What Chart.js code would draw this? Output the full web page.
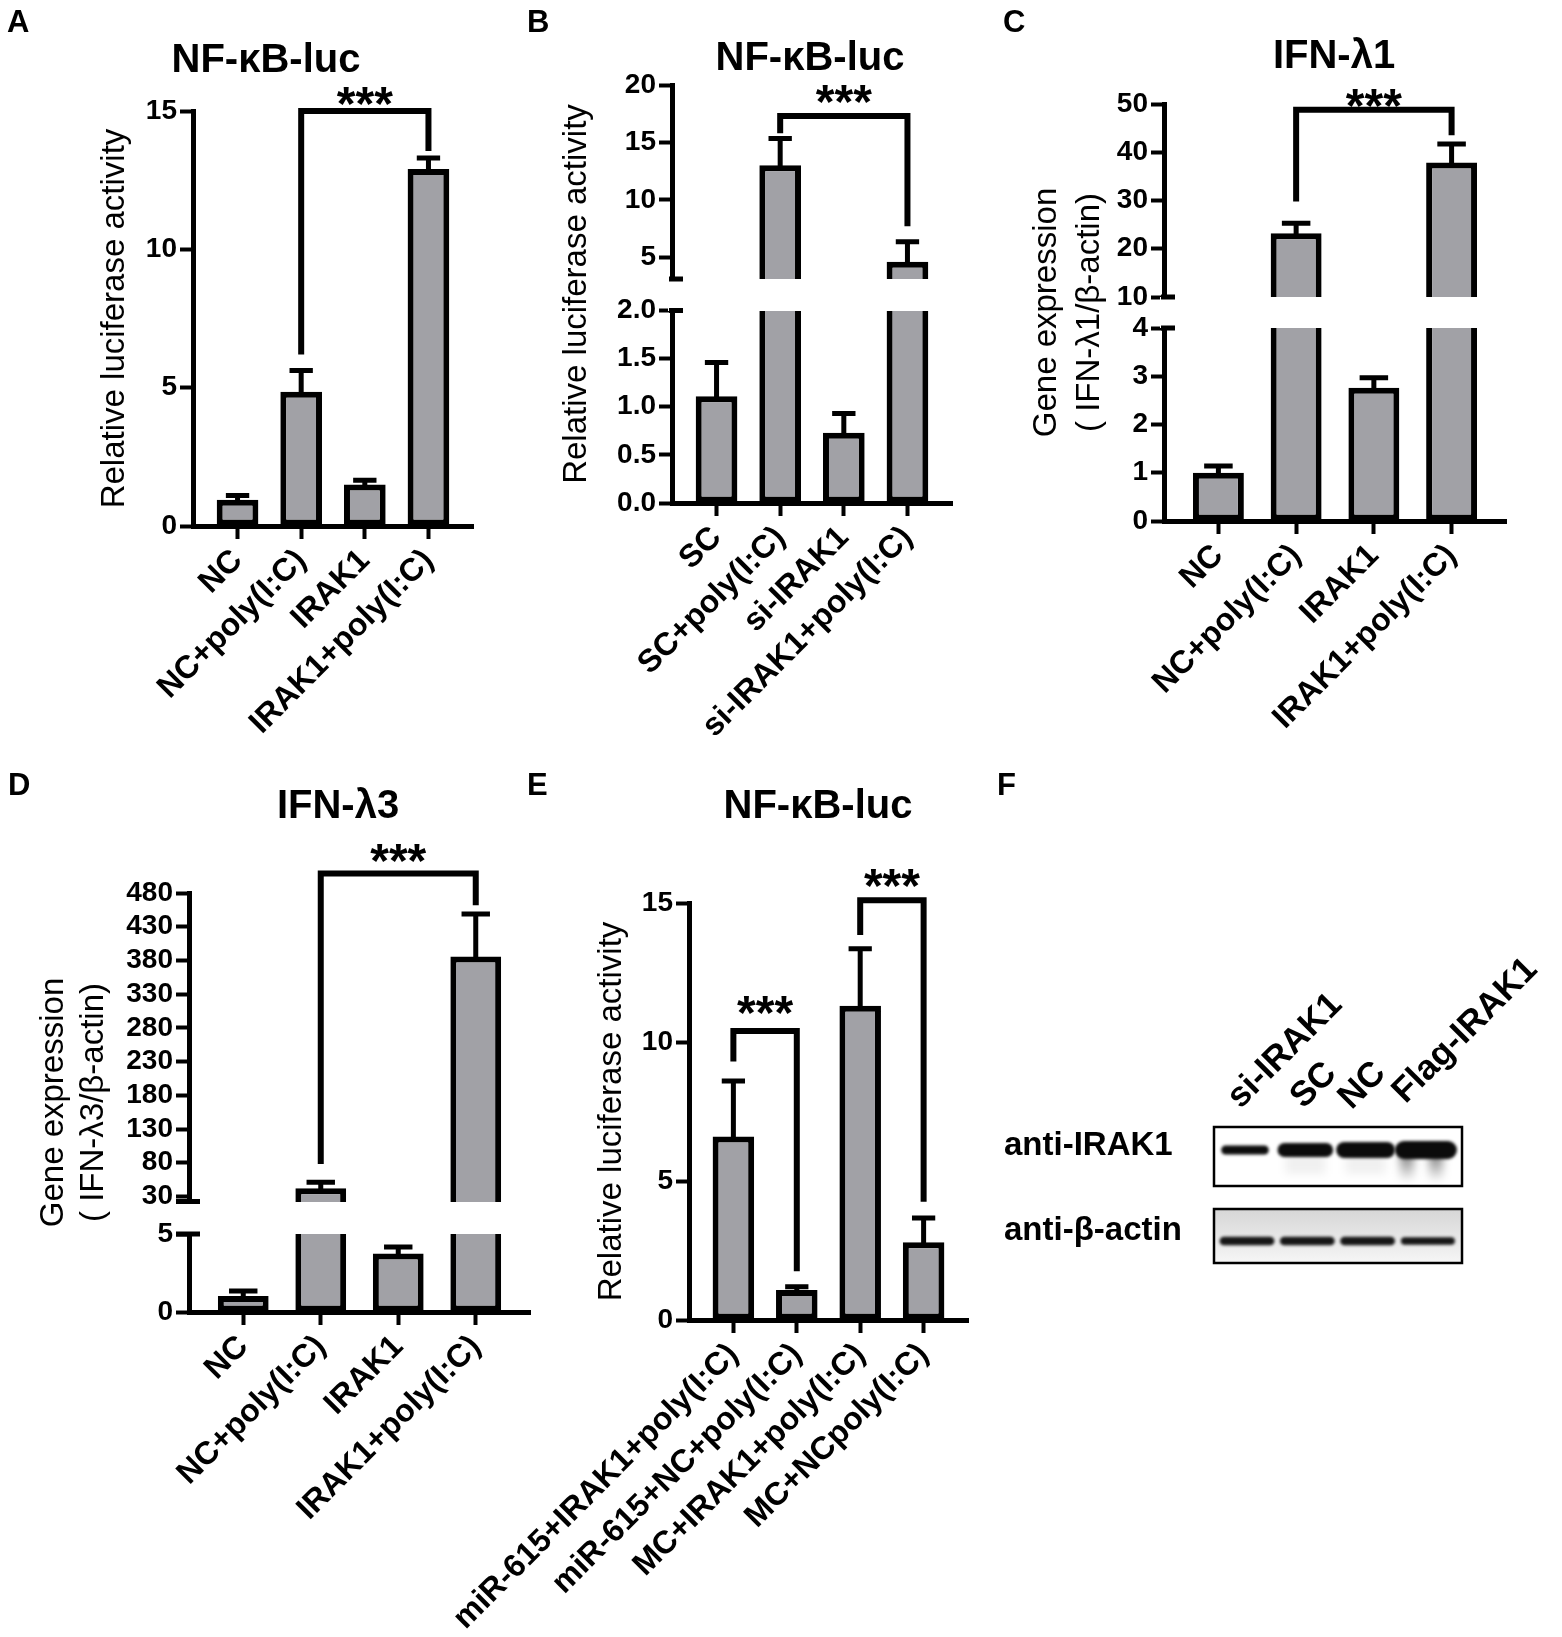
<!DOCTYPE html>
<html>
<head>
<meta charset="utf-8">
<title>IRAK1 / NF-κB figure</title>
<script src="https://cdn.jsdelivr.net/npm/chart.js@4.4.1/dist/chart.umd.min.js"></script>
<style>
  html, body { margin: 0; padding: 0; background: #fff; }
  #page { position: relative; width: 1562px; height: 1637px; overflow: hidden;
          font-family: "Liberation Sans", Arial, sans-serif; color: #000; }
  #page canvas { position: absolute; left: 0; top: 0; }
  .tag { position: absolute; font-weight: bold; font-size: 31px; line-height: 31px; }
  .blotlbl { position: absolute; font-weight: bold; font-size: 33px; line-height: 33px; white-space: nowrap; }
  .lane { position: absolute; font-weight: bold; font-size: 35px; line-height: 35px; white-space: nowrap;
          transform-origin: 0 100%; transform: rotate(-45deg); }
</style>
</head>
<body>
<div id="page">
  <canvas id="chartA" width="1562" height="1637"></canvas>
  <canvas id="chartB" width="1562" height="1637"></canvas>
  <canvas id="chartC" width="1562" height="1637"></canvas>
  <canvas id="chartD" width="1562" height="1637"></canvas>
  <canvas id="chartE" width="1562" height="1637"></canvas>
  <canvas id="blot" width="1562" height="1637"></canvas>

  <div class="tag" style="left:7px;top:6px">A</div>
  <div class="tag" style="left:527px;top:6px">B</div>
  <div class="tag" style="left:1003px;top:6px">C</div>
  <div class="tag" style="left:8px;top:769px">D</div>
  <div class="tag" style="left:527px;top:769px">E</div>
  <div class="tag" style="left:997px;top:769px">F</div>

  <div class="blotlbl" style="left:1004px;top:1127px">anti-IRAK1</div>
  <div class="blotlbl" style="left:1004px;top:1212px">anti-β-actin</div>
  <div id="lanes"></div>
</div>

<script>
// ---------- data ----------
const labelsA = ['NC', 'NC+poly(I:C)', 'IRAK1', 'IRAK1+poly(I:C)'];
const meanA = [0.95, 4.85, 1.5, 12.9];
const sdA = [0.15, 0.77, 0.15, 0.4];
// [from bar, to bar, bracket top, left leg end, right leg end]
const sigA = [[1, 3, 15.0, 6.2, 13.55]];

const labelsB = ['SC', 'SC+poly(I:C)', 'si-IRAK1', 'si-IRAK1+poly(I:C)'];
const meanB = [1.11, 13.0, 0.73, 4.6];
const sdB = [0.35, 2.35, 0.2, 1.75];
const sigB = [[1, 3, 17.3, 15.8, 7.7]];
const ticksB = [0, 0.5, 1, 1.5, 2, 5, 10, 15, 20];

const labelsC = ['NC', 'NC+poly(I:C)', 'IRAK1', 'IRAK1+poly(I:C)'];
const meanC = [1.0, 23.2, 2.76, 37.9];
const sdC = [0.14, 2.1, 0.21, 3.8];
const sigC = [[1, 3, 48.8, 29.8, 43.5]];
const ticksC = [0, 1, 2, 3, 4, 10, 20, 30, 40, 50];

const labelsD = ['NC', 'NC+poly(I:C)', 'IRAK1', 'IRAK1+poly(I:C)'];
const meanD = [1.02, 42, 3.75, 386];
const sdD = [0.33, 9, 0.42, 63];
const sigD = [[1, 3, 509, 78, 462]];
const ticksD = [0, 5, 30, 80, 130, 180, 230, 280, 330, 380, 430, 480];

const labelsE = ['miR-615+IRAK1+poly(I:C)', 'miR-615+NC+poly(I:C)', 'MC+IRAK1+poly(I:C)', 'MC+NCpoly(I:C)'];
const meanE = [6.6, 1.08, 11.3, 2.8];
const sdE = [2.0, 0.12, 2.05, 0.87];
const sigE = [[0, 1, 10.4, 9.3, 1.75], [2, 3, 15.1, 13.85, 4.25]];

const blotLanes = ['si-IRAK1', 'SC', 'NC', 'Flag-IRAK1'];
const irakBand = [0.55, 0.8, 0.9, 1.0];
const actinBand = [0.85, 0.85, 0.85, 0.75];

// ---------- setup ----------
Chart.defaults.font.family = '"Liberation Sans", Arial, sans-serif';
Chart.defaults.color = '#000';

const W = 1562, H = 1637;
const BAR_FILL = '#a1a1a6';
const PAD = 0.7;   // space before first / after last bar, in bar slots

// y axis with breaks: segments are [min, max, share of axis length]
class BrokenScale extends Chart.LinearScale {
  static id = 'broken';
  static defaults = {};
  determineDataLimits() {
    const s = this.options.segments;
    this.min = s[0][0];
    this.max = s[s.length - 1][1];
  }
  buildTicks() {
    return this.options.tickValues.map(v => ({ value: v }));
  }
  parts() {
    const segs = this.options.segments, gap = this.options.gap;
    const avail = (this.bottom - this.top) - gap * (segs.length - 1);
    const tot = segs.reduce((a, s) => a + s[2], 0);
    let y = this.bottom;
    return segs.map(s => {
      const h = avail * s[2] / tot;
      const p = { min: s[0], max: s[1], lo: y, hi: y - h };
      y -= h + gap;
      return p;
    });
  }
  getPixelForValue(v) {
    const p = this.parts();
    for (let i = 0; i < p.length; i++) {
      const s = p[i];
      if (v <= s.max || i === p.length - 1) {
        if (v >= s.min || i === 0) return s.lo + (v - s.min) / (s.max - s.min) * (s.hi - s.lo);
        const q = p[i - 1];
        return q.hi + (v - q.max) / (s.min - q.max) * (s.lo - q.hi);
      }
    }
  }
  getValueForPixel(px) {
    const p = this.parts();
    for (const s of p) {
      if (px <= s.lo && px >= s.hi) return s.min + (s.lo - px) / (s.lo - s.hi) * (s.max - s.min);
    }
    return px > p[0].lo ? p[0].min : p[p.length - 1].max;
  }
}
Chart.register(BrokenScale);

const panels = [
  { id: 'chartA', labels: labelsA, mean: meanA, sd: sdA, sig: sigA, lift: [19],
    box: [193, 111, 473, 526], title: 'NF-κB-luc', tx: 266, ty: 72,
    yTitle: 'Relative luciferase activity', yTitleAt: 115, yLine: 1.2,
    y: { type: 'linear', min: 0, max: 15, ticks: { stepSize: 5 } } },
  { id: 'chartB', labels: labelsB, mean: meanB, sd: sdB, sig: sigB, lift: [25], breakLeft: 3,
    box: [672, 85, 952, 503], title: 'NF-κB-luc', tx: 810, ty: 70,
    yTitle: 'Relative luciferase activity', yTitleAt: 577, yLine: 1.2,
    y: { type: 'broken', segments: [[0, 2, 192.5], [3.1, 20, 194]], gap: 31.5, tickValues: ticksB,
         ticks: { callback: v => v < 3 ? v.toFixed(1) : String(v) } } },
  { id: 'chartC', labels: labelsC, mean: meanC, sd: sdC, sig: sigC, lift: [15], breakLeft: 3,
    box: [1164, 104, 1506, 521], title: 'IFN-λ1', tx: 1334, ty: 68,
    yTitle: ['Gene expression', '( IFN-λ1/β-actin)'], yTitleAt: 1047, yLine: 1.3,
    y: { type: 'broken', segments: [[0, 4, 193], [10, 50, 193]], gap: 31, tickValues: ticksC,
         ticks: { callback: v => String(v) } } },
  { id: 'chartD', labels: labelsD, mean: meanD, sd: sdD, sig: sigD, lift: [24], breakLeft: 13,
    box: [189, 893, 530, 1312], title: 'IFN-λ3', tx: 338, ty: 818,
    yTitle: ['Gene expression', '( IFN-λ3/β-actin)'], yTitleAt: 54, yLine: 1.22,
    y: { type: 'broken', segments: [[0, 5, 78], [22.5, 480, 308.5]], gap: 32.5, tickValues: ticksD,
         ticks: { callback: v => String(v) } } },
  { id: 'chartE', labels: labelsE, mean: meanE, sd: sdE, sig: sigE, lift: [29, 26],
    box: [689, 903, 968, 1320], title: 'NF-κB-luc', tx: 818, ty: 818,
    yTitle: 'Relative luciferase activity', yTitleAt: 612, yLine: 1.2,
    y: { type: 'linear', min: 0, max: 15, ticks: { stepSize: 5 } } }
];

// error bars, axis breaks, brackets, stars and title
function decor(p) {
  return {
    id: 'decor',
    afterDatasetsDraw(chart) {
      const ctx = chart.ctx, ys = chart.scales.y, area = chart.chartArea;
      const bars = chart.getDatasetMeta(0).data;
      ctx.save();
      ctx.strokeStyle = '#000';
      ctx.lineWidth = 5;
      bars.forEach((bar, i) => {
        const yTop = ys.getPixelForValue(p.mean[i] + p.sd[i]);
        const half = bar.width * 0.28;
        ctx.beginPath();
        ctx.moveTo(bar.x, bar.y + 3);
        ctx.lineTo(bar.x, yTop);
        ctx.moveTo(bar.x - half, yTop);
        ctx.lineTo(bar.x + half, yTop);
        ctx.stroke();
      });
      if (ys.parts) {
        const parts = ys.parts();
        for (let k = 1; k < parts.length; k++) {
          const lo = parts[k - 1].hi, hi = parts[k].lo;
          ctx.clearRect(area.left - 4, hi, area.right - area.left + 8, lo - hi);
          ctx.beginPath();
          ctx.moveTo(area.left - p.breakLeft, hi); ctx.lineTo(area.left + 11, hi);
          ctx.moveTo(area.left - p.breakLeft, lo); ctx.lineTo(area.left + 11, lo);
          ctx.stroke();
        }
      }
      ctx.restore();
    },
    afterDraw(chart) {
      const ctx = chart.ctx, xs = chart.scales.x, ys = chart.scales.y;
      ctx.save();
      ctx.strokeStyle = '#000';
      ctx.fillStyle = '#000';
      ctx.lineWidth = 6;
      ctx.textAlign = 'center';
      ctx.textBaseline = 'alphabetic';
      p.sig.forEach((s, k) => {
        const xa = xs.getPixelForValue(s[0]), xb = xs.getPixelForValue(s[1]);
        const yt = ys.getPixelForValue(s[2]);
        ctx.beginPath();
        ctx.moveTo(xa, ys.getPixelForValue(s[3]));
        ctx.lineTo(xa, yt);
        ctx.lineTo(xb, yt);
        ctx.lineTo(xb, ys.getPixelForValue(s[4]));
        ctx.stroke();
        ctx.font = 'bold 48px "Liberation Sans", Arial, sans-serif';
        ctx.fillText('***', (xa + xb) / 2, yt - p.lift[k] + 27.5);
      });
      ctx.font = 'bold 40px "Liberation Sans", Arial, sans-serif';
      ctx.fillText(p.title, p.tx, p.ty);
      ctx.restore();
    }
  };
}

function makePanel(p) {
  const [l, t, r, b] = p.box;
  const fs = 33;
  const lh = fs * p.yLine;
  const yW = l - (p.yTitleAt - lh / 2);
  const xH = 310;
  const yScale = Object.assign({
    afterFit: s => { s.width = yW; },
    grid: { drawOnChartArea: false, drawTicks: true, tickLength: 13, tickWidth: 4, tickColor: '#000' },
    border: { display: true, width: 5, color: '#000' },
    title: { display: true, text: p.yTitle, color: '#000', padding: 0,
             font: { size: fs, lineHeight: p.yLine } }
  }, p.y, {
    ticks: Object.assign({ color: '#000', padding: 3, font: { size: 28, weight: 'bold' } }, p.y.ticks)
  });

  return new Chart(document.getElementById(p.id), {
    type: 'bar',
    data: {
      labels: p.labels,
      datasets: [{
        data: p.mean,
        backgroundColor: BAR_FILL,
        borderColor: '#000',
        borderWidth: 6,
        borderSkipped: false,
        barPercentage: 0.655,
        categoryPercentage: 1
      }]
    },
    options: {
      responsive: false,
      animation: false,
      devicePixelRatio: 1,
      events: [],
      layout: { padding: { left: l - yW, top: t, right: W - r, bottom: Math.max(0, H - b - xH) } },
      plugins: { legend: { display: false }, tooltip: { enabled: false } },
      scales: {
        x: {
          type: 'category',
          offset: false,
          afterBuildTicks: s => { s._startValue -= PAD; s._valueRange += 2 * PAD; },
          afterFit: s => { s.height = xH; },
          grid: { offset: false, drawOnChartArea: false, drawTicks: true, tickLength: 13, tickWidth: 4, tickColor: '#000' },
          border: { display: true, width: 5, color: '#000' },
          ticks: { autoSkip: false, minRotation: 45, maxRotation: 45, padding: 9, color: '#000',
                   font: { size: 32, weight: 'bold', lineHeight: 0.67 } }
        },
        y: yScale
      }
    },
    plugins: [decor(p)]
  });
}

panels.forEach(makePanel);

// ---------- panel F: western blot ----------
function capsule(ctx, cx, cy, w, h) {
  ctx.beginPath();
  ctx.roundRect(cx - w / 2, cy - h / 2, w, h, h / 2);
  ctx.fill();
}

function drawBlot() {
  const ctx = document.getElementById('blot').getContext('2d');
  const bx = 1214, bw = 248;
  const laneX = i => 1245 + i * 60.3;

  // anti-IRAK1 membrane
  ctx.fillStyle = '#fff';
  ctx.fillRect(bx, 1127, bw, 59);
  ctx.save();
  ctx.filter = 'blur(4px)';
  const smear = ctx.createLinearGradient(0, 1150, 0, 1182);
  smear.addColorStop(0, 'rgba(0,0,0,0.6)');
  smear.addColorStop(1, 'rgba(0,0,0,0)');
  ctx.fillStyle = smear;
  ctx.fillRect(laneX(3) - 26, 1150, 14, 30);
  ctx.fillRect(laneX(3) + 3, 1150, 14, 30);
  ctx.fillStyle = 'rgba(0,0,0,0.06)';
  ctx.fillRect(laneX(1) - 20, 1152, 40, 22);
  ctx.fillRect(laneX(2) - 20, 1152, 40, 22);
  ctx.filter = 'blur(1.6px)';
  ctx.fillStyle = '#0b0b0b';
  irakBand.forEach((s, i) => capsule(ctx, laneX(i), 1150, 30 + 32 * s, 20 * s - 2));
  ctx.restore();
  ctx.lineWidth = 2.5;
  ctx.strokeStyle = '#000';
  ctx.strokeRect(bx, 1127, bw, 59);

  // anti-beta-actin membrane
  const bg = ctx.createLinearGradient(0, 1209, 0, 1263);
  bg.addColorStop(0, '#d6d6d6');
  bg.addColorStop(0.5, '#e6e6e6');
  bg.addColorStop(1, '#f6f6f6');
  ctx.fillStyle = bg;
  ctx.fillRect(bx, 1209, bw, 54);
  ctx.save();
  ctx.filter = 'blur(1.6px)';
  ctx.fillStyle = '#161616';
  actinBand.forEach((s, i) => capsule(ctx, laneX(i) + 2, 1241, 48 + 8 * s, 10 * s));
  ctx.restore();
  ctx.strokeRect(bx, 1209, bw, 54);

  // lane labels
  const pos = [[1244, 1113], [1307, 1113], [1355, 1114], [1409, 1108]];
  const holder = document.getElementById('lanes');
  blotLanes.forEach((name, i) => {
    const d = document.createElement('div');
    d.className = 'lane';
    d.textContent = name;
    d.style.left = pos[i][0] + 'px';
    d.style.top = (pos[i][1] - 35) + 'px';
    holder.appendChild(d);
  });
}
drawBlot();
</script>
</body>
</html>
